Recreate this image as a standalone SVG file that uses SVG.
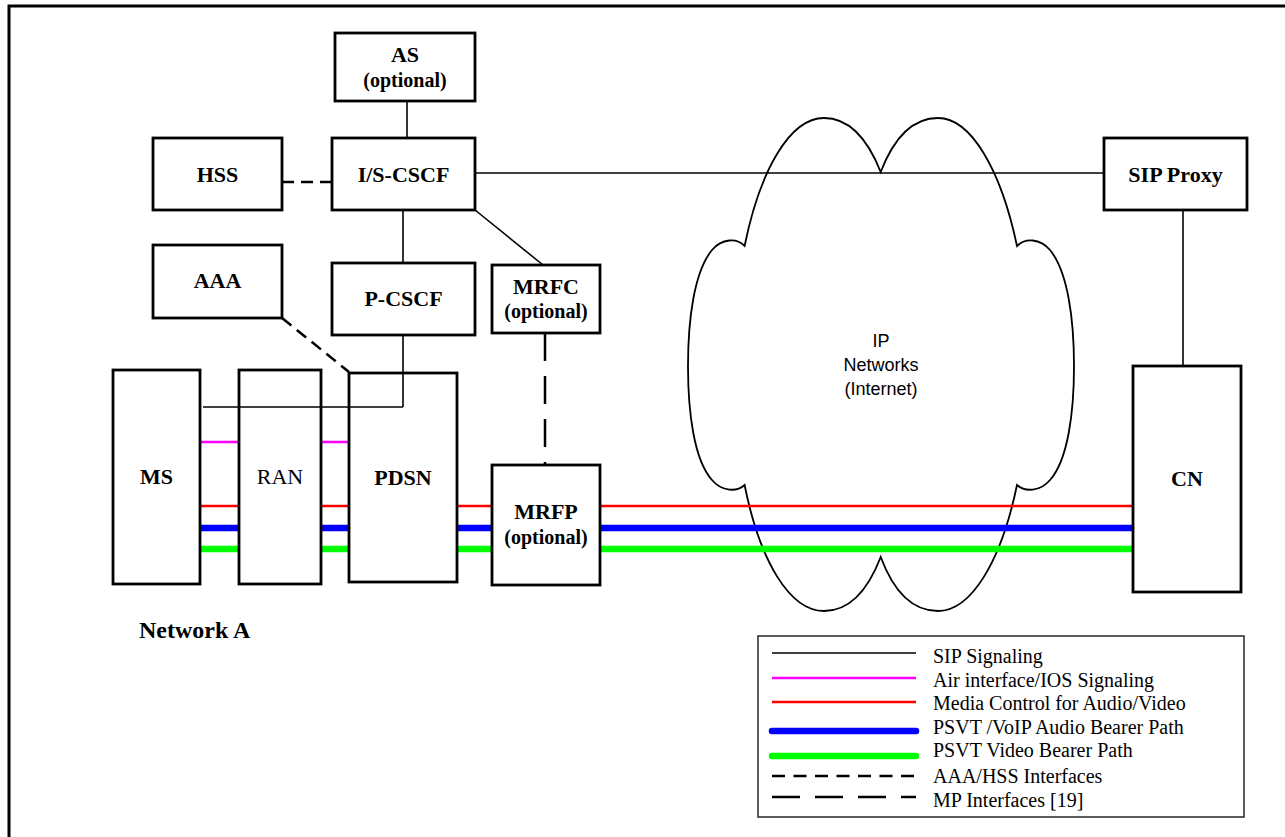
<svg xmlns="http://www.w3.org/2000/svg" width="1285" height="837" viewBox="0 0 1285 837">
<style>
.box{fill:#fff;stroke:#000;stroke-width:2.8}
.lbl{font-family:"Liberation Serif",serif;font-weight:bold;font-size:22px;text-anchor:middle;fill:#000}
.opt{font-family:"Liberation Serif",serif;font-weight:bold;font-size:20px;text-anchor:middle;fill:#000}
.reg{font-family:"Liberation Serif",serif;font-size:22px;text-anchor:middle;fill:#000}
.sip{stroke:#000;stroke-width:1.6;fill:none}
.air{stroke:#ff00ff;stroke-width:2.5;fill:none}
.red{stroke:#ff0000;stroke-width:2.5;fill:none}
.blue{stroke:#0000ff;stroke-width:6.5;fill:none}
.green{stroke:#00ff00;stroke-width:6.5;fill:none}
.aaa{stroke:#000;stroke-width:2.5;stroke-dasharray:12 7;fill:none}
.mp{stroke:#000;stroke-width:2.5;stroke-dasharray:28 15;fill:none}
.leg{font-family:"Liberation Serif",serif;font-size:20px;fill:#000}
.cloudtxt{font-family:"Liberation Sans",Arial,sans-serif;font-size:18px;text-anchor:middle;fill:#000}
</style>
<rect x="0" y="0" width="1285" height="837" fill="#fff"/>
<rect x="9" y="6" width="1300" height="860" fill="none" stroke="#000" stroke-width="3"/>

<g id="cloud">
<path d="M744.6,246 C760,170 790,118 824,118 C850,118 868,140 880.7,172 C893,140 911,118 938,118 C971,118 1001,170 1017,246 C1025,238 1040,238 1050,250 C1068,272 1074,320 1074,366 C1074,412 1068,460 1050,480 C1040,492 1025,492 1017,485 C1001,562 971,611 938,611 C911,611 893,590 880.7,557 C868,590 850,611 824,611 C790,611 760,562 744.6,485 C737,492 722,492 712,480 C694,460 688,412 688,366 C688,320 694,272 712,250 C722,238 737,238 744.6,246 Z" fill="#fff" stroke="#000" stroke-width="1.8"/>
<text class="cloudtxt" x="881" y="347">IP</text>
<text class="cloudtxt" x="881" y="371">Networks</text>
<text class="cloudtxt" x="881" y="395">(Internet)</text>
</g>

<g id="connectors">
<line class="sip" x1="407" y1="101" x2="407" y2="138"/>
<line class="sip" x1="475" y1="173" x2="1104" y2="173"/>
<line class="sip" x1="403" y1="210" x2="403" y2="263"/>
<line class="sip" x1="475" y1="210" x2="543" y2="265"/>
<line class="sip" x1="1183" y1="210" x2="1183" y2="366"/>
<line class="aaa" x1="282" y1="182" x2="332" y2="182"/>
<line class="aaa" x1="282" y1="318" x2="349" y2="372"/>
<line class="mp" x1="545" y1="333" x2="545" y2="465"/>
<line class="air" x1="200" y1="442" x2="239" y2="442"/>
<line class="air" x1="321" y1="442" x2="349" y2="442"/>
<g>
<line class="red" x1="200" y1="506" x2="239" y2="506"/>
<line class="red" x1="321" y1="506" x2="349" y2="506"/>
<line class="red" x1="457" y1="506" x2="492" y2="506"/>
<line class="red" x1="600" y1="506" x2="1133" y2="506"/>
<line class="blue" x1="200" y1="528" x2="239" y2="528"/>
<line class="blue" x1="321" y1="528" x2="349" y2="528"/>
<line class="blue" x1="457" y1="528" x2="492" y2="528"/>
<line class="blue" x1="600" y1="528" x2="1133" y2="528"/>
<line class="green" x1="200" y1="549" x2="239" y2="549"/>
<line class="green" x1="321" y1="549" x2="349" y2="549"/>
<line class="green" x1="457" y1="549" x2="492" y2="549"/>
<line class="green" x1="600" y1="549" x2="1133" y2="549"/>
</g>
</g>

<g id="AS"><rect class="box" x="335" y="33" width="140" height="68"/><text class="lbl" x="405" y="62">AS</text><text class="opt" x="405" y="87">(optional)</text></g>
<g id="HSS"><rect class="box" x="153" y="138" width="129" height="72"/><text class="lbl" x="217.5" y="182">HSS</text></g>
<g id="ISCSCF"><rect class="box" x="332" y="138" width="143" height="72"/><text class="lbl" x="403.5" y="182">I/S-CSCF</text></g>
<g id="AAA"><rect class="box" x="153" y="245" width="129" height="73"/><text class="lbl" x="217.5" y="288">AAA</text></g>
<g id="PCSCF"><rect class="box" x="332" y="263" width="143" height="72"/><text class="lbl" x="403.5" y="306">P-CSCF</text></g>
<g id="MRFC"><rect class="box" x="492" y="265" width="108" height="68"/><text class="lbl" x="546" y="294">MRFC</text><text class="opt" x="546" y="318">(optional)</text></g>
<g id="SIPProxy"><rect class="box" x="1104" y="138" width="143" height="72"/><text class="lbl" x="1175.5" y="182">SIP Proxy</text></g>
<g id="MS"><rect class="box" x="113" y="370" width="87" height="214"/><text class="lbl" x="156.5" y="484">MS</text></g>
<g id="RAN"><rect class="box" x="239" y="370" width="82" height="214"/><text class="reg" x="280" y="484">RAN</text></g>
<g id="PDSN"><rect class="box" x="349" y="373" width="108" height="209"/><text class="lbl" x="403" y="485">PDSN</text></g>
<g id="MRFP"><rect class="box" x="492" y="465" width="108" height="120"/><text class="lbl" x="546" y="519">MRFP</text><text class="opt" x="546" y="544">(optional)</text></g>
<g id="CN"><rect class="box" x="1133" y="366" width="108" height="226"/><text class="lbl" x="1187" y="486">CN</text></g>

<line class="sip" x1="203" y1="407" x2="403" y2="407"/>
<line class="sip" x1="403" y1="407" x2="403" y2="335"/>

<text id="networkA" x="139" y="638" font-family="Liberation Serif, serif" font-weight="bold" font-size="24">Network A</text>

<g id="legend">
<rect x="758" y="636" width="486" height="181" fill="#fff" stroke="#333" stroke-width="1.6"/>
<line x1="772" y1="653" x2="916" y2="653" stroke="#000" stroke-width="1.6"/>
<line x1="772" y1="678" x2="916" y2="678" stroke="#ff00ff" stroke-width="2.5"/>
<line x1="772" y1="702" x2="916" y2="702" stroke="#ff0000" stroke-width="2.5"/>
<line x1="772" y1="731" x2="916" y2="731" stroke="#0000ff" stroke-width="6.5" stroke-linecap="round"/>
<line x1="772" y1="756" x2="916" y2="756" stroke="#00ff00" stroke-width="6.5" stroke-linecap="round"/>
<line x1="772" y1="776" x2="916" y2="776" stroke="#000" stroke-width="2.5" stroke-dasharray="13 8.5"/>
<line x1="772" y1="797" x2="916" y2="797" stroke="#000" stroke-width="2.5" stroke-dasharray="28 15"/>
<text class="leg" x="933" y="663">SIP Signaling</text>
<text class="leg" x="933" y="687">Air interface/IOS Signaling</text>
<text class="leg" x="933" y="710">Media Control for Audio/Video</text>
<text class="leg" x="933" y="734">PSVT /VoIP Audio Bearer Path</text>
<text class="leg" x="933" y="757">PSVT Video Bearer Path</text>
<text class="leg" x="933" y="783">AAA/HSS Interfaces</text>
<text class="leg" x="933" y="807">MP Interfaces [19]</text>
</g>
</svg>
